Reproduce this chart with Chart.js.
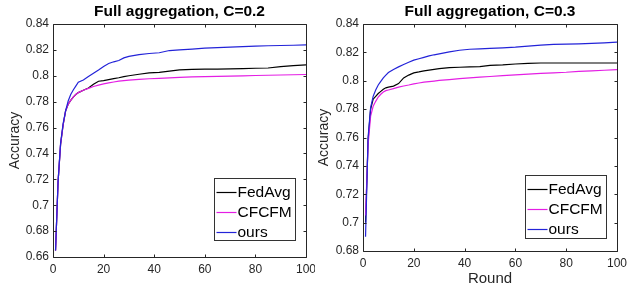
<!DOCTYPE html>
<html>
<head>
<meta charset="utf-8">
<script src="https://cdn.jsdelivr.net/npm/chart.js@4.4.1/dist/chart.umd.min.js"></script>
<style>
  html, body { margin: 0; padding: 0; background: #ffffff; }
  #wrap { position: relative; width: 630px; height: 298px; }
  canvas { position: absolute; top: 0; }
</style>
</head>
<body>
<div id="wrap">
  <canvas id="c1" width="315" height="298" style="left:0px"></canvas>
  <canvas id="c2" width="315" height="298" style="left:315px"></canvas>
</div>
<script>
// ---------- data ----------
const rounds = [1,2,3,4,5,6,7,8,9,10,12,14,16,18,20,22,24,26,28,30,34,38,42,46,50,55,60,65,70,75,80,85,90,95,100];

const seriesNames = ['FedAvg', 'CFCFM', 'ours'];

// Full aggregation, C=0.2
const fedAvgC02 = [.665,.718,.747,.762,.773,.778,.781,.7835,.7855,.787,.7888,.7905,.7935,.7958,.7962,.797,.7978,.7985,.7993,.800,.8012,.8022,.8026,.8036,.8046,.8049,.8051,.8052,.8053,.8055,.8058,.806,.807,.8078,.8085];
const cfcfmC02  = [.665,.718,.747,.762,.773,.778,.781,.7835,.7855,.787,.7888,.7903,.7917,.7928,.7937,.7945,.7952,.7958,.7963,.7967,.7972,.7977,.798,.7984,.7988,.7991,.7994,.7996,.7998,.800,.8002,.8004,.8006,.8008,.801];
const oursC02   = [.665,.718,.748,.763,.773,.7805,.7855,.789,.792,.795,.7968,.7995,.802,.8045,.8072,.8095,.8108,.8118,.8138,.815,.8163,.8172,.8178,.8195,.820,.8206,.8213,.8217,.8221,.8225,.8229,.8232,.8234,.8236,.8238];

// Full aggregation, C=0.3
const fedAvgC03 = [.700,.758,.780,.787,.789,.791,.7925,.794,.795,.7955,.7962,.798,.802,.804,.8055,.8062,.807,.8075,.808,.8085,.8093,.8095,.8098,.810,.8108,.8112,.8118,.8122,.8125,.8125,.8125,.8125,.8125,.8125,.8125];
const cfcfmC03  = [.705,.755,.775,.782,.7855,.7885,.7905,.792,.793,.7935,.7945,.7955,.7963,.797,.7978,.7984,.799,.7994,.7998,.8002,.8008,.8015,.802,.8025,.803,.8036,.8042,.8047,.8052,.8056,.806,.8066,.807,.8074,.8078];
const oursC03   = [.690,.760,.781,.789,.7935,.797,.7995,.802,.804,.8058,.808,.8098,.8115,.813,.8145,.8155,.8165,.8175,.8183,.819,.8203,.8215,.8222,.8225,.8228,.8232,.8237,.8244,.8251,.8256,.8258,.826,.8263,.8267,.8272];

// tick values
const xTickValues = [0, 20, 40, 60, 80, 100];
const yTicksC02 = [0.66,0.68,0.70,0.72,0.74,0.76,0.78,0.80,0.82,0.84];
const yTicksC03 = [0.68,0.70,0.72,0.74,0.76,0.78,0.80,0.82,0.84];

// ---------- styling ----------
const FONT = '"Liberation Sans", Arial, Helvetica, sans-serif';
const AXIS_COLOR = '#262626';
const seriesColors = ['#000000', '#e41ee4', '#2323d8'];

function pts(vals) { return rounds.map((r, i) => ({ x: r, y: vals[i] })); }

const framePlugin = {
  id: 'frame',
  afterDatasetsDraw(chart, args, opts) {
    const { ctx, chartArea: a, scales } = chart;
    const x = scales.x, y = scales.y;
    ctx.save();
    ctx.strokeStyle = AXIS_COLOR;
    ctx.lineWidth = 1;
    ctx.beginPath();
    const L = Math.round(a.left) + 0.5, R = Math.round(a.right) + 0.5;
    const T = Math.round(a.top) + 0.5, B = Math.round(a.bottom) + 0.5;
    ctx.rect(L, T, R - L, B - T);
    const tl = 3;
    x.ticks.forEach(t => {
      const px = Math.round(x.getPixelForValue(t.value)) + 0.5;
      ctx.moveTo(px, B); ctx.lineTo(px, B - tl);
      ctx.moveTo(px, T); ctx.lineTo(px, T + tl);
    });
    y.ticks.forEach(t => {
      const py = Math.round(y.getPixelForValue(t.value)) + 0.5;
      ctx.moveTo(L, py); ctx.lineTo(L + tl, py);
      ctx.moveTo(R, py); ctx.lineTo(R - tl, py);
    });
    ctx.stroke();

    // legend box (inside plot, lower right)
    const lg = opts.legend;
    if (lg) {
      const bx = Math.round(a.right - lg.right - lg.w) + 0.5;
      const by = Math.round(a.bottom - lg.bottom - lg.h) + 0.5;
      ctx.fillStyle = '#ffffff';
      ctx.fillRect(bx, by, lg.w, lg.h);
      ctx.strokeStyle = '#333333';
      ctx.strokeRect(bx, by, lg.w, lg.h);
      ctx.font = '15.5px ' + FONT;
      ctx.textBaseline = 'middle';
      ctx.textAlign = 'left';
      const rows = [13.8, 33.5, 53.2];
      chart.data.datasets.forEach((ds, i) => {
        const yy = Math.round(by + rows[i]) + 0.5;
        ctx.strokeStyle = ds.borderColor;
        ctx.lineWidth = 1.2;
        ctx.beginPath();
        ctx.moveTo(bx + 2, yy); ctx.lineTo(bx + 22, yy);
        ctx.stroke();
        ctx.fillStyle = '#000000';
        ctx.fillText(ds.label, bx + 23, yy + 0.5);
      });
    }
    ctx.restore();
  }
};

function makeChart(id, cfg) {
  const W = 315, H = 298;
  return new Chart(document.getElementById(id), {
    type: 'line',
    data: {
      datasets: cfg.series.map((vals, i) => ({
        label: seriesNames[i],
        data: pts(vals),
        borderColor: seriesColors[i],
        backgroundColor: seriesColors[i],
        borderWidth: 1.2,
        pointRadius: 0,
        tension: 0,
        fill: false,
        order: 2 - i
      }))
    },
    options: {
      responsive: false,
      animation: false,
      devicePixelRatio: 1,
      events: [],
      layout: { padding: { left: 0, top: 0, right: W - cfg.area.right, bottom: 0 } },
      plugins: {
        legend: { display: false },
        tooltip: { enabled: false },
        title: {
          display: true,
          text: cfg.title,
          fullSize: false,
          color: '#000000',
          font: { family: FONT, size: 15.5, weight: 'bold', lineHeight: 1.2 },
          padding: { top: 2, bottom: cfg.area.top - 2 - 18.6 }
        },
        frame: { legend: cfg.legend }
      },
      scales: {
        x: {
          type: 'linear',
          min: 0, max: 100,
          afterBuildTicks: s => { s.ticks = xTickValues.map(v => ({ value: v })); },
          ticks: {
            color: AXIS_COLOR, padding: 5, maxRotation: 0, autoSkip: false,
            font: { family: FONT, size: 12 },
            callback: v => String(v)
          },
          grid: { display: false, drawTicks: false },
          border: { display: false },
          title: cfg.xTitle ? {
            display: true, text: cfg.xTitle, color: AXIS_COLOR,
            font: { family: FONT, size: 15, lineHeight: 1.2 },
            padding: { top: 0, bottom: 10 }
          } : { display: false },
          afterFit: s => { s.height = H - cfg.area.bottom; s.paddingLeft = 0; s.paddingRight = 0; }
        },
        y: {
          type: 'linear',
          min: cfg.yTicks[0], max: cfg.yTicks[cfg.yTicks.length - 1],
          afterBuildTicks: s => { s.ticks = cfg.yTicks.map(v => ({ value: v })); },
          ticks: {
            color: AXIS_COLOR, padding: 4, autoSkip: false,
            font: { family: FONT, size: 12 },
            callback: v => String(+v.toFixed(2))
          },
          grid: { display: false, drawTicks: false },
          border: { display: false },
          title: {
            display: true, text: 'Accuracy', color: AXIS_COLOR,
            font: { family: FONT, size: 14, lineHeight: 1.2 },
            padding: { top: cfg.yTitlePad, bottom: 0 }
          },
          afterFit: s => { s.width = cfg.area.left; s.paddingTop = 0; s.paddingBottom = 0; }
        }
      }
    },
    plugins: [framePlugin]
  });
}

makeChart('c1', {
  title: 'Full aggregation, C=0.2',
  series: [fedAvgC02, cfcfmC02, oursC02],
  yTicks: yTicksC02,
  area: { left: 53, right: 306, top: 24, bottom: 257 },
  yTitlePad: 7,
  xTitle: null,
  legend: { w: 81, h: 62, right: 11, bottom: 17 }
});

makeChart('c2', {
  title: 'Full aggregation, C=0.3',
  series: [fedAvgC03, cfcfmC03, oursC03],
  yTicks: yTicksC03,
  area: { left: 48, right: 302, top: 24, bottom: 251 },
  yTitlePad: 1,
  xTitle: 'Round',
  legend: { w: 81, h: 63, right: 11, bottom: 13 }
});
</script>
</body>
</html>
